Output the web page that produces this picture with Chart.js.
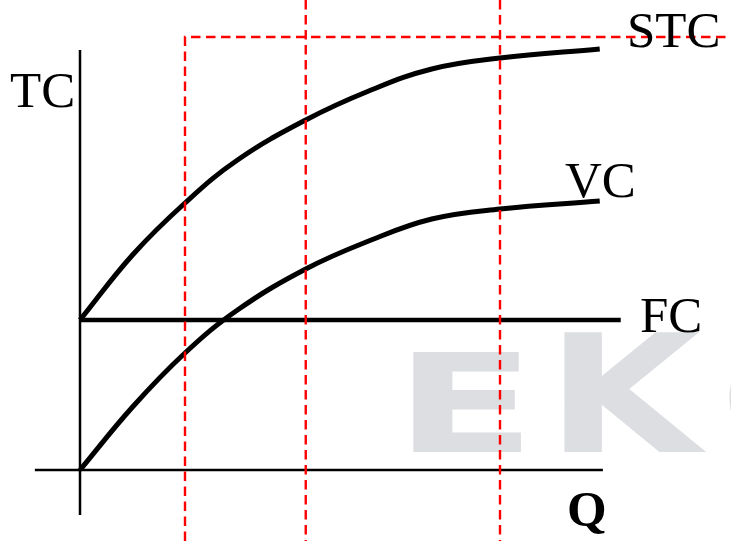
<!DOCTYPE html>
<html>
<head>
<meta charset="utf-8">
<script src="https://cdn.jsdelivr.net/npm/chart.js@4.4.0/dist/chart.umd.min.js"></script>
<style>
  html, body { margin: 0; padding: 0; background: #fff; }
  canvas { display: block; }
</style>
</head>
<body>
<canvas id="costChart" width="731" height="541"></canvas>
<script>
// output (Q) and cost values
const qCurve = [0, 10, 20, 30, 43, 55, 67, 80, 99];
const stc = [30, 43, 53.4, 62, 70, 75.8, 80.2, 82.4, 84.2];
const vc = [0, 12.6, 23.4, 32, 40.2, 45.8, 50.2, 52.2, 53.8];
const fcLevel = 30;
const qFCEnd = 103;
const qMarks = [20, 43, 80];   // red dashed guides
const stcCap = 86.6;           // red dashed ceiling
const qRange = [-15.238, 124];
const cRange = [-14.2, 94];
const axisQ = [-8.6, 99.6];
const axisC = [-9, 84];
const labelTexts = ['TC', 'STC', 'VC', 'FC', 'Q'];

const pts = (xs, ys) => xs.map((x, i) => ({ x: x, y: ys[i] }));

const redDash = {
    borderColor: '#ff0000',
    borderWidth: 2.4,
    borderDash: [9.5, 5.5],
    pointRadius: 0,
    showLine: true,
    tension: 0
};

const datasets = [
    // red guides first so they sit on top
    Object.assign({ data: [{ x: qMarks[0], y: cRange[0] }, { x: qMarks[0], y: stcCap }, { x: qRange[1], y: stcCap }] }, redDash),
    Object.assign({ data: [{ x: qMarks[1], y: cRange[1] }, { x: qMarks[1], y: cRange[0] }] }, redDash),
    Object.assign({ data: [{ x: qMarks[2], y: cRange[1] }, { x: qMarks[2], y: cRange[0] }] }, redDash),
    {
        label: 'STC',
        data: pts(qCurve, stc),
        borderColor: '#000', borderWidth: 5, pointRadius: 0, showLine: true,
        tension: 0.4
    },
    {
        label: 'VC',
        data: pts(qCurve, vc),
        borderColor: '#000', borderWidth: 5, pointRadius: 0, showLine: true,
        tension: 0.4
    },
    {
        label: 'FC',
        data: [{ x: 0, y: fcLevel }, { x: qFCEnd, y: fcLevel }],
        borderColor: '#000', borderWidth: 4.5, pointRadius: 0, showLine: true
    },
    // axes
    {
        data: [{ x: axisQ[0], y: 0 }, { x: axisQ[1], y: 0 }],
        borderColor: '#000', borderWidth: 2.5, pointRadius: 0, showLine: true
    },
    {
        data: [{ x: 0, y: axisC[0] }, { x: 0, y: axisC[1] }],
        borderColor: '#000', borderWidth: 2.5, pointRadius: 0, showLine: true
    }
];

// fit a glyph's ink into a box
function fitText(ctx, text, x0, y0, x1, y1) {
    ctx.font = 'bold 100px "DejaVu Sans"';
    const m = ctx.measureText(text);
    const w = m.actualBoundingBoxLeft + m.actualBoundingBoxRight;
    const h = m.actualBoundingBoxAscent + m.actualBoundingBoxDescent;
    ctx.save();
    ctx.translate(x0, y0);
    ctx.scale((x1 - x0) / w, (y1 - y0) / h);
    ctx.fillText(text, m.actualBoundingBoxLeft, m.actualBoundingBoxAscent);
    ctx.restore();
}

const watermarkPlugin = {
    id: 'watermark',
    beforeDatasetsDraw: (chart) => {
        const ctx = chart.ctx;
        ctx.save();
        const g = ctx.createLinearGradient(400, 330, 560, 460);
        g.addColorStop(0, '#dcdee1');
        g.addColorStop(0.5, '#cfd1d5');
        g.addColorStop(1, '#b5b7bb');
        ctx.fillStyle = g;
        ctx.textAlign = 'left';
        ctx.textBaseline = 'alphabetic';
        fitText(ctx, 'E', 413, 352, 521, 452);
        fitText(ctx, 'K', 564, 332, 707, 452);
        fitText(ctx, 'O', 728, 345, 850, 448);
        ctx.restore();
    }
};

const labelPlugin = {
    id: 'curveLabels',
    afterDatasetsDraw: (chart) => {
        const ctx = chart.ctx;
        const spots = [[10, 107, false], [627, 47, false], [565, 197, false], [640, 332, false], [567, 526, true]];
        ctx.save();
        ctx.fillStyle = '#000';
        ctx.textAlign = 'left';
        ctx.textBaseline = 'alphabetic';
        labelTexts.forEach((t, i) => {
            const s = spots[i];
            ctx.font = (s[2] ? 'bold ' : '') + '51px "Liberation Serif"';
            ctx.fillText(t, s[0], s[1]);
        });
        ctx.restore();
    }
};

new Chart(document.getElementById('costChart').getContext('2d'), {
    type: 'scatter',
    data: { datasets: datasets },
    options: {
        responsive: false,
        animation: false,
        layout: { padding: 0 },
        scales: {
            x: { type: 'linear', min: qRange[0], max: qRange[1], display: false },
            y: { type: 'linear', min: cRange[0], max: cRange[1], display: false }
        },
        plugins: {
            legend: { display: false },
            tooltip: { enabled: false }
        }
    },
    plugins: [watermarkPlugin, labelPlugin]
});
</script>
</body>
</html>
